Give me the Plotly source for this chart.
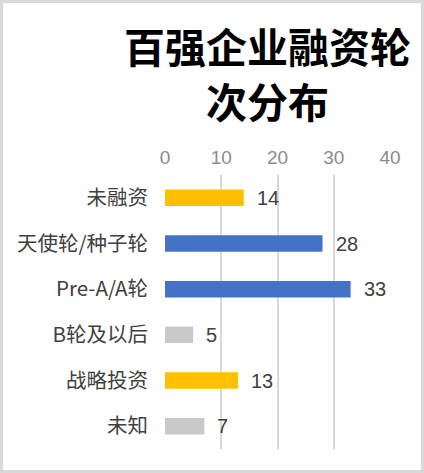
import plotly.graph_objects as go

categories = ["未融资", "天使轮/种子轮", "Pre-A/A轮", "B轮及以后", "战略投资", "未知"]
values = [14, 28, 33, 5, 13, 7]
bar_colors = ["#FFC000", "#4472C4", "#4472C4", "#C9C9C9", "#FFC000", "#C9C9C9"]
tick_vals = [0, 10, 20, 30, 40]
title_lines = ["百强企业融资轮", "次分布"]

W, H = 424, 473
L, R, T, B = 165, 34, 175, 24
pw, ph = W - L - R, H - T - B

fig = go.Figure(go.Bar(
    x=values, y=categories, orientation="h",
    marker=dict(color=bar_colors, line_width=0),
    hoverinfo="x+y",
))

# value labels next to each bar
for cat, v in zip(categories, values):
    fig.add_annotation(
        x=v, y=cat, text=str(v), showarrow=False,
        xanchor="left", xshift=11,
        font=dict(size=20, color="#404040", family="Liberation Sans, Arial"),
    )

# two-line title, placed by hand to get the wide line spacing
for i, line in enumerate(title_lines):
    fig.add_annotation(
        xref="paper", yref="paper", x=(267 - L) / pw, y=1 + (T - 45 - 55 * i) / ph,
        text=line, showarrow=False,
        xanchor="center", yanchor="middle",
        font=dict(size=41, color="#000000", family="Noto Sans CJK SC", weight=600),
    )

fig.update_layout(
    width=W, height=H, margin=dict(l=L, r=R, t=T, b=B),
    paper_bgcolor="white", plot_bgcolor="white",
    bargap=0.64, showlegend=False,
    font=dict(family="Noto Sans CJK SC, sans-serif"),
    xaxis=dict(
        side="top", range=[0, 40], tickvals=tick_vals,
        showgrid=True, gridcolor="#D9D9D9", gridwidth=1.5,
        zeroline=False, showline=False, ticks="",
        tickfont=dict(size=19, color="#8C8C8C", family="Liberation Sans, Arial"),
        ticklabelstandoff=6,
    ),
    yaxis=dict(
        autorange="reversed", showgrid=False, zeroline=False, showline=False,
        ticks="", ticklabelstandoff=16,
        tickfont=dict(size=20.5, color="#404040", family="Noto Sans CJK SC"),
    ),
    shapes=[dict(
        type="rect", xref="paper", yref="paper",
        x0=-(L - 1.5) / pw, x1=1 + (R - 1.5) / pw,
        y0=-(B - 1.5) / ph, y1=1 + (T - 1.5) / ph,
        line=dict(color="#D9D9D9", width=3), layer="below",
    )],
)

fig.write_html(
    "out.html",
    config={"displayModeBar": False},
    post_script="document.body.style.margin='0';document.body.style.overflow='hidden';",
)
